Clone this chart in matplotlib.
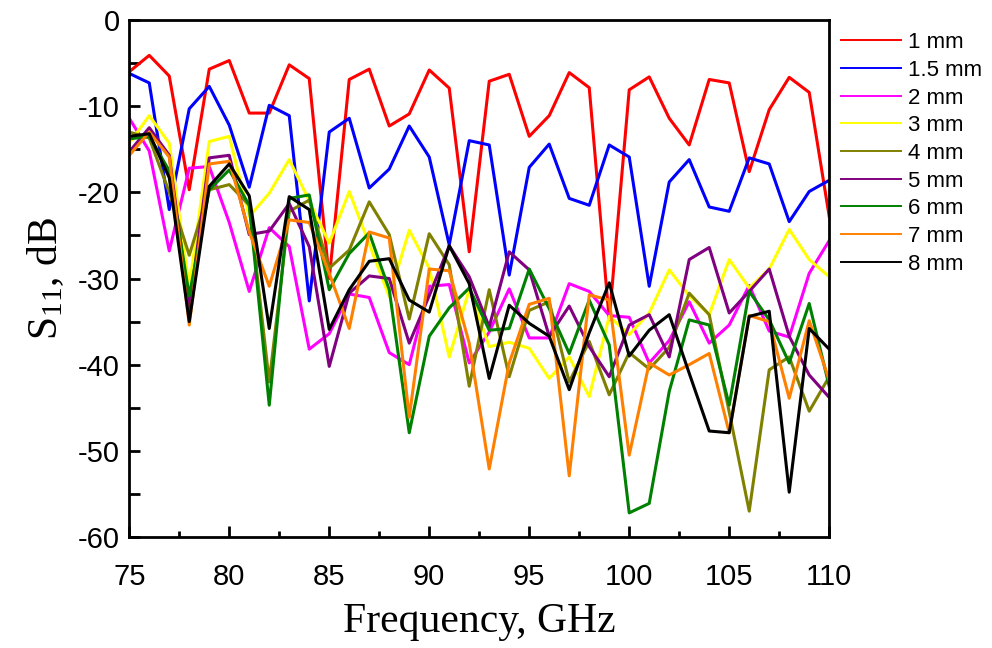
import numpy as np
import matplotlib
matplotlib.use("Agg")
import matplotlib.pyplot as plt
from matplotlib.ticker import MultipleLocator

plt.rcParams['axes.unicode_minus'] = False
plt.rcParams['mathtext.fontset'] = 'custom'
plt.rcParams['mathtext.rm'] = 'Liberation Serif'
plt.rcParams['mathtext.it'] = 'Liberation Serif:italic'

# frequency axis, GHz
freq = np.arange(75, 111, 1)

s11_1mm = [-6.0, -4.1, -6.5, -19.7, -5.7, -4.7, -10.8, -10.8, -5.2, -6.8, -30.0, -6.9,
           -5.7, -12.3, -10.9, -5.8, -7.9, -26.9, -7.1, -6.3, -13.5, -11.1, -6.1, -7.85,
           -34.8, -8.1, -6.6, -11.4, -14.5, -6.9, -7.3, -17.6, -10.4, -6.65, -8.4, -22.8]
s11_15mm = [-6.2, -7.3, -22.0, -10.3, -7.7, -12.2, -19.4, -9.9, -11.1, -32.6, -13.0, -11.4,
            -19.5, -17.3, -12.3, -15.9, -26.1, -14.0, -14.5, -29.6, -17.1, -14.4, -20.7, -21.5,
            -14.5, -15.9, -30.9, -18.8, -16.2, -21.7, -22.2, -16.0, -16.7, -23.4, -19.9, -18.6]
s11_2mm = [-11.4, -15.2, -26.8, -17.2, -17.0, -23.5, -31.5, -24.1, -26.3, -38.2, -36.4, -31.8,
           -32.2, -38.6, -40.0, -30.9, -30.7, -39.8, -36.2, -31.2, -36.9, -36.9, -30.6, -31.5,
           -34.3, -34.5, -39.8, -37.2, -32.7, -37.5, -35.4, -30.8, -36.1, -36.8, -29.4, -25.6]
s11_3mm = [-14.3, -11.1, -14.3, -31.0, -14.1, -13.5, -22.8, -20.1, -16.2, -21.0, -25.9, -19.9,
           -26.0, -32.1, -24.4, -28.8, -39.1, -31.3, -37.9, -37.4, -38.1, -41.6, -39.1, -43.7,
           -34.4, -36.5, -34.0, -29.0, -32.0, -34.2, -27.8, -31.1, -28.9, -24.3, -27.8, -29.8]
s11_4mm = [-13.0, -13.7, -20.0, -27.3, -19.7, -19.1, -21.5, -42.0, -22.2, -20.9, -28.8, -26.7,
           -21.1, -24.9, -34.7, -24.8, -28.4, -42.5, -31.3, -41.4, -33.7, -32.7, -42.0, -37.3,
           -43.5, -38.6, -40.5, -38.0, -31.7, -34.2, -45.5, -57.0, -40.6, -39.1, -45.4, -41.4]
s11_5mm = [-15.3, -12.5, -15.7, -33.5, -16.0, -15.7, -24.9, -24.5, -21.3, -26.3, -40.2, -31.7,
           -29.7, -30.0, -37.5, -32.0, -26.2, -29.8, -35.6, -26.9, -29.0, -36.7, -33.2, -37.9,
           -41.4, -35.4, -34.2, -39.1, -27.8, -26.4, -34.0, -31.5, -28.9, -36.7, -41.2, -43.8]
s11_6mm = [-13.8, -13.5, -17.5, -32.0, -19.7, -17.4, -21.5, -44.7, -20.7, -20.3, -31.3, -27.1,
           -24.7, -31.3, -47.9, -36.7, -33.4, -31.1, -36.0, -35.8, -28.9, -33.5, -38.7, -32.5,
           -37.7, -57.2, -56.1, -43.1, -34.8, -35.4, -44.7, -31.5, -34.8, -39.8, -32.9, -42.5]
s11_7mm = [-15.7, -13.0, -15.9, -35.4, -16.7, -16.4, -24.6, -30.9, -23.2, -23.5, -29.4, -35.8,
           -24.6, -25.3, -46.1, -28.9, -29.1, -37.5, -52.1, -39.8, -33.0, -32.3, -52.9, -31.9,
           -32.5, -50.5, -39.8, -41.2, -40.0, -38.7, -47.9, -34.3, -35.0, -43.9, -34.9, -41.8]
s11_8mm = [-13.5, -13.2, -18.3, -35.0, -19.3, -16.7, -20.4, -35.8, -20.5, -22.0, -35.9, -31.3,
           -28.0, -27.7, -32.5, -33.9, -26.2, -30.6, -41.6, -33.1, -35.2, -36.7, -42.9, -36.3,
           -30.5, -39.0, -36.0, -34.2, -41.0, -47.7, -47.9, -34.4, -33.8, -54.8, -35.8, -38.2]

labels = ["1 mm", "1.5 mm", "2 mm", "3 mm", "4 mm", "5 mm", "6 mm", "7 mm", "8 mm"]
colors = ["#ff0000", "#0000ff", "#ff00ff", "#ffff00", "#808000",
          "#800080", "#008000", "#ff8000", "#000000"]
series = [s11_1mm, s11_15mm, s11_2mm, s11_3mm, s11_4mm, s11_5mm, s11_6mm, s11_7mm, s11_8mm]

fig = plt.figure(figsize=(9.92, 6.48), dpi=100)
ax = fig.add_axes([0.1303, 0.1713, 0.7056, 0.7978])

for y, c, lab in zip(series, colors, labels):
    ax.plot(freq, y, color=c, lw=2.2, label=lab)

ax.set_xlim(75, 110)
ax.set_ylim(-60, 0)
ax.xaxis.set_major_locator(MultipleLocator(5))
ax.xaxis.set_minor_locator(MultipleLocator(2.5))
ax.yaxis.set_major_locator(MultipleLocator(10))
ax.yaxis.set_minor_locator(MultipleLocator(5))
ax.tick_params(which="both", direction="in", width=2, top=False, right=False)
ax.tick_params(axis="x", which="major", length=8, labelsize=21, pad=19)
ax.tick_params(axis="x", which="minor", length=4.5)
ax.tick_params(axis="y", which="both", length=8, labelsize=21, pad=7)
for lbl in ax.get_xticklabels() + ax.get_yticklabels():
    lbl.set_fontfamily("Liberation Sans")
for sp in ax.spines.values():
    sp.set_linewidth(2)

ax.set_xlabel("Frequency, GHz", fontsize=30, family="Liberation Serif", labelpad=8)
ax.set_ylabel("S$_{11}$, dB", fontsize=30, family="Liberation Serif", labelpad=8)

leg = ax.legend(loc="upper left", bbox_to_anchor=(1.0, 1.0), frameon=False,
                prop={"family": "Liberation Sans", "size": 16},
                handlelength=2.7, handletextpad=0.3, labelspacing=0.3,
                borderaxespad=0.15)
for h in leg.get_lines():
    h.set_linewidth(1.4)

fig.savefig("out.png", dpi=100)
